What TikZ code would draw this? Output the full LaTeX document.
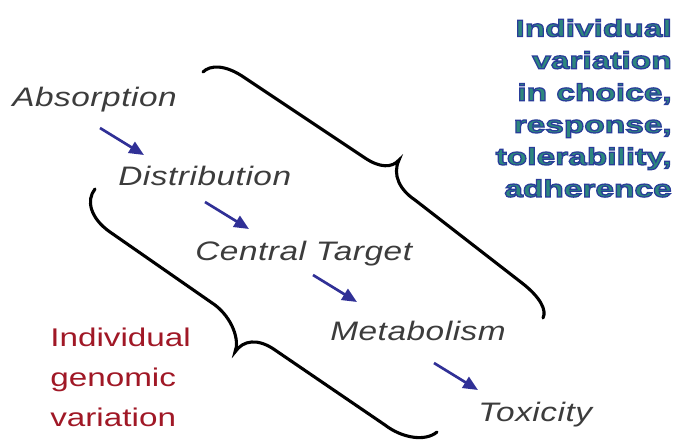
\documentclass[tikz,border=0pt]{standalone}
\usepackage{fontspec}
\setmainfont{Liberation Sans}
\newfontfamily\stagefont[FakeStretch=1.25,LetterSpace=2]{Liberation Sans}
\newfontfamily\genfont[FakeStretch=1.3]{Liberation Sans}
\newfontfamily\varfont[FakeStretch=1.4]{Liberation Sans}
\usetikzlibrary{arrows.meta}
\definecolor{stagegray}{RGB}{60,60,60}
\definecolor{arrowblue}{RGB}{48,48,150}
\definecolor{genred}{RGB}{160,24,38}
\definecolor{varteal}{RGB}{45,135,125}
% outline for the bold text on the right
\newcommand{\startoutline}{\special{pdf:literal direct 2 Tr 0.9 w 0.16 0.24 0.60 RG}}
\newcommand{\stopoutline}{\special{pdf:literal direct 0 Tr}}

\begin{document}
\begin{tikzpicture}[x=0.025cm,y=-0.025cm,>={Triangle[length=10.5pt,width=9pt]},
    stage/.style={anchor=base west,inner sep=0pt,text=stagegray,
        font=\stagefont\itshape\fontsize{19}{23}\selectfont},
    brace/.style={line width=2.2pt,line cap=round},
    push/.style={->,arrowblue,line width=1.9pt}]
    \useasboundingbox (0,0) rectangle (675,441);
    % stages
    \node[stage] (abs) at (12,106) {Absorption};
    \node[stage] (dist) at (118,185) {Distribution};
    \node[stage] (ctar) at (195,260) {Central Target};
    \node[stage] (metab) at (330,340) {Metabolism};
    \node[stage] (tox) at (478,421) {Toxicity};
    \foreach \x/\y [count=\i] in {100/128,205/202,313/275,434/363}{
        \coordinate (s\i) at (\x,\y);
        \coordinate (e\i) at (\x+44,\y+27);
        \draw[push] (s\i) -- (e\i);
    }
    % braces
    \draw[brace] (203,72) .. controls (210,65) and (225,64) .. (245,78) -- (365,158)
        .. controls (380,168) and (392,168) .. (399,160)
        .. controls (392,175) and (400,190) .. (415,200) -- (522,283)
        .. controls (540,297) and (547,310) .. (543,318);
    \draw[brace] (95,189) .. controls (86,200) and (90,218) .. (110,232) -- (215,305)
        .. controls (232,318) and (240,340) .. (235,352)
        .. controls (243,340) and (258,338) .. (275,350) -- (385,425)
        .. controls (402,438) and (425,442) .. (437,432);
    % side texts
    \node[anchor=north west,inner sep=0pt,align=left,text=genred,
        font=\genfont\fontsize{18.2}{28.5}\selectfont] (genomic) at (50,328)
        {Individual\\genomic\\variation};
    \node[anchor=north east,inner sep=0pt,align=right,text=varteal,
        font=\varfont\bfseries\fontsize{17}{22.8}\selectfont] (choice) at (672,19)
        {\startoutline Individual\\variation\\in choice,\\response,\\tolerability,\\adherence\stopoutline};
\end{tikzpicture}
\end{document}
